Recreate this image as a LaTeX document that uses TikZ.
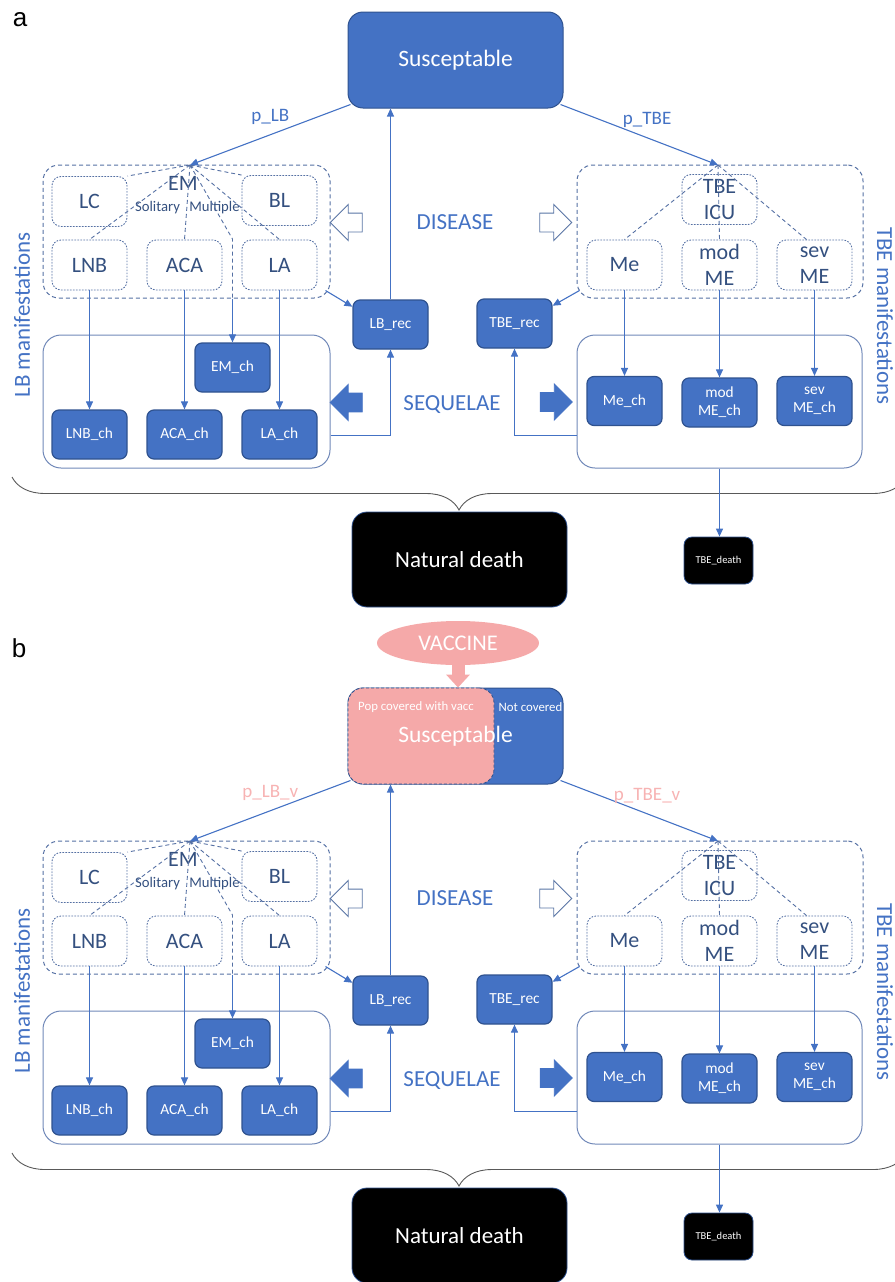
\documentclass[tikz,border=0pt]{standalone}
\usepackage{fontspec}
\setmainfont{Carlito}
\newfontfamily\panelfont{Liberation Sans}
\usepackage{xcolor}
\usetikzlibrary{shapes, arrows.meta, positioning, calc, decorations.pathreplacing}
\definecolor{offblue}{HTML}{4472C4}
\definecolor{navy}{HTML}{2F528F}
\definecolor{boxtext}{HTML}{34507F}
\definecolor{dashcol}{HTML}{5570A3}
\definecolor{framecol}{HTML}{7088B8}
\definecolor{vacpink}{HTML}{F5A9A9}
\definecolor{lblpink}{HTML}{F7B3B3}
\tikzset{
    chbox/.style={
        rectangle,
        rounded corners=7pt,
        draw=navy,
        line width=1.2pt,
        fill=offblue,
        text=white,
        font=\fontsize{15.4}{18}\selectfont,
        align=center,
        minimum width=75pt,
        minimum height=49pt,
        inner sep=0pt,
    },
    manbox/.style={
        rectangle,
        rounded corners=9pt,
        draw=dashcol,
        line width=0.9pt,
        dash pattern=on 1.6pt off 1.4pt,
        text=boxtext,
        font=\fontsize{22}{26}\selectfont,
        align=center,
        minimum width=75pt,
        minimum height=50pt,
        inner sep=0pt,
    },
    disgroup/.style={
        rectangle,
        rounded corners=16pt,
        draw=dashcol,
        line width=1pt,
        dash pattern=on 4pt off 3pt,
        minimum width=287pt,
        minimum height=133pt,
    },
    seqframe/.style={
        rectangle,
        rounded corners=18pt,
        draw=framecol,
        line width=1pt,
        minimum width=287pt,
        minimum height=133pt,
    },
    susbox/.style={
        rectangle,
        rounded corners=15pt,
        fill=offblue,
        draw=navy,
        line width=1pt,
        text=white,
        font=\fontsize{23.5}{26}\selectfont,
        minimum width=215pt,
        minimum height=96pt,
    },
    deathbox/.style={
        rectangle,
        rounded corners=15pt,
        fill=black,
        draw=navy,
        line width=0.8pt,
        text=white,
        font=\fontsize{23}{26}\selectfont,
        minimum width=215pt,
        minimum height=95pt,
    },
    title/.style={text=offblue, font=\fontsize{23}{26}\selectfont},
    emtext/.style={text=boxtext, font=\fontsize{22}{26}\selectfont, inner sep=1pt},
    small/.style={text=boxtext, font=\fontsize{14.7}{16}\selectfont, inner sep=1pt},
    plabel/.style={font=\fontsize{19}{22}\selectfont},
    note/.style={text=white, font=\fontsize{12.8}{15}\selectfont, inner sep=1pt},
    flow/.style={->, draw=offblue, line width=1.1pt},
    link/.style={draw=dashcol, line width=0.9pt, dash pattern=on 4pt off 3pt},
    hollow/.style={single arrow, draw=navy!80, line width=0.9pt, fill=white,
        minimum height=32pt, single arrow head extend=8.5pt, inner xsep=0pt, inner ysep=9pt},
    solidarrow/.style={hollow, fill=offblue, draw=offblue},
    brace/.style={decorate, decoration={brace, mirror, amplitude=33pt}, draw=black!65, line width=0.9pt},
    panellabel/.style={font=\panelfont\fontsize{26}{28}\selectfont, inner sep=0pt},
    vaccine/.style={ellipse, fill=vacpink, text=white, font=\fontsize{22.4}{25}\selectfont,
        minimum width=162pt, minimum height=44pt, inner sep=0pt},
    covbox/.style={rectangle, rounded corners=15pt, fill=vacpink, draw=navy, line width=0.8pt,
        dash pattern=on 3pt off 2pt, minimum width=146pt, minimum height=96pt},
}

% one panel of the model (everything below the Susceptable box)
\newcommand{\diseasepanel}[2]{%
    % LB disease compartments
    \node[disgroup] (lbdis) at (186.5,231.5) {};
    \node[manbox] (lc) at (89.5,201.5) {LC};
    \node[manbox] (bl) at (279.5,200.5) {BL};
    \node[manbox] (lnb) at (89.5,265) {LNB};
    \node[manbox] (aca) at (184.5,265) {ACA};
    \node[manbox] (la) at (279.5,265) {LA};
    \coordinate (lbtop) at (190,165);
    \coordinate (emsplit) at (232.5,239);
    \node[emtext] (em) at (183,183) {EM};
    \node[small] (sol) at (157.5,208) {Solitary};
    \node[small] (mul) at (214.5,208) {Multiple};
    \draw[link] (lbtop) -- (lc.north east) (lbtop) -- (bl.north west)
        (lbtop) -- (lnb.north) (lbtop) -- (aca.north) (lbtop) -- (la.north)
        (lbtop) -- (emsplit) -- (emsplit |- lbdis.south);
    % LB sequelae
    \node[seqframe] (lbseq) at (186.5,401.5) {};
    \node[chbox] (emch) at (232.5,367.5) {EM\_ch};
    \node[chbox] (lnbch) at (89.5,434.5) {LNB\_ch};
    \node[chbox] (acach) at (184.5,434.5) {ACA\_ch};
    \node[chbox] (lach) at (279.5,434.5) {LA\_ch};
    \node[chbox] (lbrec) at (390.5,324.5) {LB\_rec};
    \draw[flow] (emsplit |- lbdis.south) -- (emsplit |- emch.north);
    \draw[flow] (lnb) -- (lnb |- lnbch.north);
    \draw[flow] (aca) -- (aca |- acach.north);
    \draw[flow] (la) -- (la |- lach.north);
    \draw[flow] ($(lbdis.south east)+(-5,-8)$) -- (lbrec.155);
    \draw[flow] ($(lbseq.south east)+(0,-33)$) -| (lbrec);
    \draw[flow] (lbrec) -- (lbrec |- sus.south);
    % TBE disease compartments
    \node[disgroup, minimum width=286pt] (tbedis) at (720,231.5) {};
    \node[manbox] (icu) at (719.5,199.5) {TBE\\ICU};
    \node[manbox] (me) at (624.5,265) {Me};
    \node[manbox] (modme) at (719.5,265) {mod\\ME};
    \node[manbox] (sevme) at (814.5,265) {sev\\ME};
    \coordinate (tbetop) at (718,165);
    \draw[link] (tbetop) -- (me.north) (tbetop) -- (modme.north)
        (tbetop) -- ($(sevme.north)+(-8,0)$);
    % TBE sequelae
    \node[seqframe, minimum width=285pt] (tbeseq) at (719.5,401.5) {};
    \node[chbox] (mech) at (624.5,401) {Me\_ch};
    \node[chbox] (modmech) at (719.5,402.5) {mod\\ME\_ch};
    \node[chbox] (sevmech) at (814.5,401) {sev\\ME\_ch};
    \node[chbox] (tberec) at (514.5,323.5) {TBE\_rec};
    \draw[flow] (me) -- (me |- mech.north);
    \draw[flow] (modme) -- (modme |- modmech.north);
    \draw[flow] (sevme) -- (sevme |- sevmech.north);
    \draw[flow] ($(tbedis.south west)+(3,-8)$) -- (tberec.25);
    \draw[flow] ($(tbeseq.south west)+(0,-33)$) -| (tberec);
    % middle labels
    \node[title] (disease) at (455,222) {DISEASE};
    \node[title] (sequelae) at (452,405) {SEQUELAE};
    \node[hollow, shape border rotate=180] (lbin) at (351,222.5) {};
    \node[hollow] (tbein) at (551,222.5) {};
    \node[solidarrow, shape border rotate=180] (lbout) at (351,402.5) {};
    \node[solidarrow] (tbeout) at (551.5,402) {};
    \node[title, rotate=90] (lbman) at (22,315) {LB manifestations};
    \node[title, rotate=-90] (tbeman) at (885,316) {TBE manifestations};
    % infection
    \draw[flow] ($(sus.south west)+(3,-4)$) -- node[plabel, text=#2, above=6pt, pos=.5] {p\_LB#1} (lbtop);
    \draw[flow] ($(sus.south east)+(-3,-4)$) -- node[plabel, text=#2, above=6pt, pos=.55] {p\_TBE#1} (tbetop);
    % deaths
    \draw[brace] (12,477) -- (906,477);
    \node[deathbox] (natdeath) at (459.5,559.5) {Natural death};
    \node[deathbox, rounded corners=8pt, minimum width=69pt, minimum height=47pt,
        font=\fontsize{10.5}{12}\selectfont] (tbedeath) at (718.5,560.5) {TBE\_death};
    \draw[flow] (tbeseq.south) -- (tbeseq.south |- tbedeath.north);
}

\begin{document}
\begin{tikzpicture}[x=1pt,y=-1pt,>={Triangle[length=8pt,width=7pt]}]
    \useasboundingbox (0,0) rectangle (894,1282);
    % panel a
    \begin{scope}[name prefix=a-]
        \node[panellabel] (pa) at (20,20) {a};
        \node[susbox] (sus) at (455.5,60) {Susceptable};
        \diseasepanel{}{offblue}
    \end{scope}
    % panel b
    \begin{scope}[yshift=-676pt, name prefix=b-]
        \node[panellabel] (pb) at (19,-28) {b};
        \node[susbox] (susbg) at (455.5,60) {};
        \node[covbox] (cov) at (421,60) {};
        \node[susbox, fill=none, draw=none] (sus) at (455.5,60) {Susceptable};
        \node[note] (covered) at (416,31) {Pop covered with vacc};
        \node[note] (notcov) at (530.5,31) {Not covered};
        \node[vaccine] (vac) at (458,-33) {VACCINE};
        \draw[vacpink, line width=13pt, -{Triangle[length=13pt,width=23pt]}] (vac) -- (vac |- cov.north);
        \diseasepanel{\_v}{lblpink}
    \end{scope}
\end{tikzpicture}
\end{document}
